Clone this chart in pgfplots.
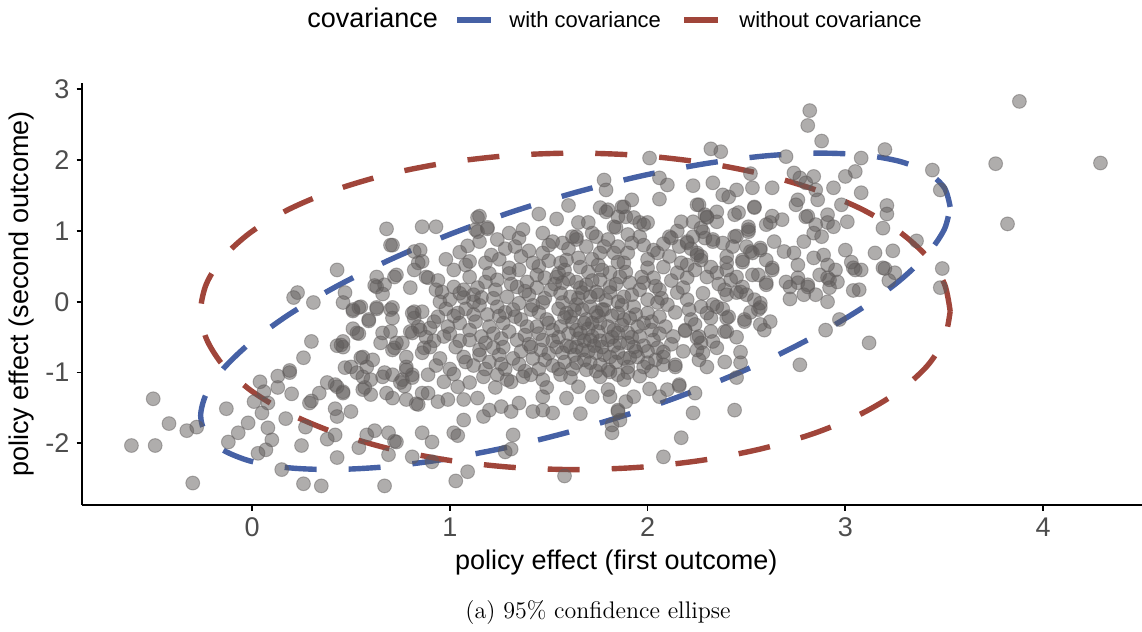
\documentclass[border=0pt]{standalone}
\usepackage{pgfplots}
\usepackage{pgfplotstable}
\pgfplotsset{compat=1.18}
\usepackage{fontspec}
\newfontfamily\arial{Liberation Sans}

\definecolor{withcov}{HTML}{4661A5}
\definecolor{nocov}{HTML}{A0453A}
\definecolor{pointgray}{HTML}{5F5B5A}
\definecolor{ticktext}{HTML}{4D4D4D}

% simulated policy effects (first outcome, second outcome)
\pgfplotstableread{
x y
4.29 1.96
3.88 2.83
3.76 1.95
3.82 1.10
3.20 2.15
3.44 1.86
3.08 2.03
3.48 1.58
3.21 1.36
3.21 1.24
3.19 1.04
3.36 0.86
3.24 0.72
3.15 0.69
3.20 0.47
3.25 0.41
3.22 0.30
3.49 0.47
3.48 0.20
3.12 -0.58
3.08 1.54
3.08 0.45
3.07 0.17
2.82 2.70
2.81 2.49
2.88 2.27
2.32 2.16
2.37 2.12
2.01 2.03
2.70 2.05
3.05 1.84
3.00 1.77
2.74 1.82
2.77 1.75
2.84 1.77
2.80 1.68
2.52 1.81
2.53 1.61
2.63 1.61
2.23 1.64
2.33 1.68
2.45 1.58
2.38 1.51
2.41 1.48
2.26 1.37
2.06 1.45
2.06 1.75
2.10 1.65
2.85 1.58
2.86 1.44
2.94 1.61
2.98 1.37
2.76 1.44
2.75 1.37
2.54 1.33
2.80 1.20
2.81 1.21
2.91 1.23
3.01 1.13
2.94 1.06
2.91 1.12
2.85 1.09
2.84 0.97
2.88 0.92
2.79 0.85
2.62 1.12
2.60 1.09
2.68 1.16
2.64 0.85
2.69 0.71
2.74 0.69
2.76 0.52
2.84 0.62
2.89 0.66
2.95 0.45
3.00 0.73
3.03 0.56
3.05 0.45
2.91 0.52
2.87 0.38
2.96 0.28
2.44 1.23
2.46 1.26
2.35 1.27
2.29 1.23
2.30 1.19
2.17 1.13
2.23 1.13
2.27 1.04
2.29 0.90
2.51 1.06
2.51 0.99
2.45 0.93
2.11 0.92
1.93 1.19
2.00 1.12
1.98 1.09
1.92 1.44
1.88 1.34
1.80 1.30
1.78 1.72
1.79 1.58
2.43 0.78
2.50 0.78
2.53 0.69
2.48 0.56
2.57 0.73
2.60 0.59
2.63 0.45
2.40 0.45
2.33 0.85
2.38 0.83
2.20 0.83
2.25 0.69
2.27 0.64
2.20 0.52
2.70 0.28
2.76 0.27
2.81 0.21
2.92 0.31
2.77 -0.89
2.47 -0.71
2.47 -0.86
2.39 -0.85
2.45 -1.07
2.44 -1.53
2.24 -1.29
2.23 -1.57
2.17 -1.92
2.08 -2.19
2.16 -1.19
2.10 -1.24
2.06 -1.34
2.01 -1.23
1.93 -1.34
1.89 -1.41
1.85 -1.55
1.86 -1.67
1.82 -1.74
1.81 -1.34
2.90 -0.40
2.97 -0.25
3.04 0.16
2.91 0.00
2.92 0.20
2.91 0.34
3.19 0.48
3.04 0.48
2.85 0.10
2.79 0.10
2.72 0.04
2.72 0.21
2.76 0.34
2.81 0.24
2.60 0.24
2.62 -0.28
2.57 -0.32
2.59 -0.40
2.56 -0.11
2.57 -0.02
2.54 0.03
2.49 -0.28
2.41 -0.21
2.40 -0.42
2.45 0.13
2.40 0.10
2.48 0.21
2.56 0.38
2.63 0.48
2.32 -0.42
2.25 -0.51
2.28 -0.72
2.25 -0.68
2.26 -0.82
2.30 -0.92
2.19 -0.41
2.14 -0.92
2.08 -0.78
2.04 -0.82
1.98 -0.92
1.91 -0.79
1.85 -1.03
2.30 -0.16
2.33 -0.04
2.21 -0.11
-0.50 -1.37
-0.42 -1.72
-0.33 -1.82
-0.28 -1.77
-0.61 -2.03
-0.49 -2.03
-0.30 -2.56
-0.13 -1.51
-0.07 -1.85
-0.12 -1.98
-0.02 -1.71
0.03 -2.14
0.07 -2.09
0.10 -1.95
0.08 -1.78
0.15 -2.37
0.25 -2.03
0.26 -2.57
0.35 -2.60
0.43 -2.20
0.38 -1.94
0.42 -1.88
0.58 -1.88
0.62 -1.82
0.54 -2.06
0.69 -2.16
0.69 -1.85
0.72 -1.97
0.67 -2.60
0.86 -1.85
0.81 -2.19
0.27 -1.77
0.17 -1.65
0.05 -1.57
0.01 -1.41
0.08 -1.43
0.04 -1.13
0.06 -1.27
0.13 -1.21
0.13 -1.05
0.19 -1.00
0.20 -1.30
0.29 -1.43
0.30 -1.40
0.34 -1.29
0.38 -1.14
0.43 -1.20
0.46 -1.29
0.42 -1.51
0.50 -1.55
0.43 -1.62
0.26 -0.79
0.30 -0.56
0.23 0.13
0.21 0.06
0.31 -0.01
0.43 0.45
0.47 0.13
0.46 -0.01
0.54 -0.08
0.51 -0.13
0.59 -0.27
0.51 -0.38
0.54 -0.45
0.46 -0.56
0.43 -0.62
0.47 -0.93
0.55 -0.79
0.58 -0.92
0.56 -1.06
0.63 0.35
0.63 0.21
0.66 0.11
0.72 0.35
0.80 0.20
0.63 -0.10
0.70 -0.11
0.71 -0.23
0.66 -0.44
0.70 -0.42
0.65 -0.58
0.72 -0.65
0.76 -0.58
0.82 -0.14
0.86 -0.14
0.82 -0.23
0.85 -0.40
0.81 -0.44
0.78 -0.92
0.81 -1.03
0.76 -1.10
0.71 -1.03
0.66 -1.06
0.68 -1.29
0.60 -1.31
0.57 -1.21
0.71 -1.36
0.78 -1.38
0.83 -1.44
0.86 -1.29
0.77 -1.19
0.85 0.73
0.86 0.57
0.82 0.45
0.71 0.80
0.88 0.35
0.87 -0.65
0.68 1.03
0.70 0.80
0.86 1.06
0.93 1.06
1.09 0.79
1.10 0.57
1.08 0.52
1.14 0.99
1.19 1.05
1.14 1.19
1.45 1.24
1.54 1.17
1.60 1.36
1.76 1.33
1.79 1.27
1.87 1.34
1.24 0.88
1.30 0.97
1.33 0.78
1.37 1.02
1.21 0.66
1.30 0.48
1.35 0.45
1.36 0.64
1.47 0.97
1.47 0.69
1.52 0.85
1.57 0.83
1.60 0.75
1.65 1.12
1.70 1.12
1.64 0.88
1.74 0.92
1.78 0.78
1.85 0.78
1.59 0.59
1.56 0.55
1.75 0.52
1.84 1.05
1.89 1.20
0.82 0.71
0.84 0.55
0.89 0.34
0.93 0.17
0.62 0.23
0.73 0.38
0.67 0.24
0.51 -0.11
0.55 -0.07
0.63 -0.08
0.71 -0.08
0.59 -0.25
0.81 -0.16
0.96 0.14
1.02 0.21
1.07 0.17
1.14 0.20
1.16 0.06
1.12 0.00
1.07 0.06
1.00 0.03
0.95 0.00
0.94 -0.21
1.23 0.17
1.24 0.31
1.29 0.07
1.34 0.21
1.39 0.28
1.44 0.20
1.48 0.34
1.54 0.35
1.57 0.27
1.51 0.17
1.64 0.28
1.69 0.24
1.76 0.31
1.81 0.21
1.61 0.07
1.71 0.07
1.85 0.00
1.67 -0.11
1.57 -0.01
1.77 -0.11
1.88 0.55
1.86 0.35
1.83 0.69
1.47 -0.01
1.41 -0.11
1.32 -0.11
1.24 -0.07
1.19 -0.18
1.12 -0.18
1.04 -0.16
0.99 -0.35
0.90 -0.37
0.84 -0.35
0.80 -0.42
0.73 -0.58
0.53 -0.44
0.46 -0.64
0.56 -0.78
0.61 -0.82
0.71 -0.68
0.78 -0.78
0.86 -0.72
0.90 -0.64
0.97 -0.49
1.03 -0.64
1.10 -0.54
1.16 -0.49
1.20 -0.35
1.27 -0.30
1.33 -0.21
1.39 -0.35
1.44 -0.35
1.49 -0.25
1.56 -0.35
1.61 -0.21
1.64 -0.40
1.72 -0.30
1.80 -0.35
1.85 -0.44
1.88 -0.25
1.07 -0.78
1.15 -0.68
1.27 -0.64
1.34 -0.54
1.41 -0.64
1.47 -0.54
1.54 -0.64
1.57 -0.72
1.64 -0.64
1.71 -0.54
1.77 -0.64
1.85 -0.72
1.90 -0.58
1.03 -2.53
1.09 -2.40
1.58 -2.46
1.32 -1.88
1.28 -2.12
1.31 -2.08
1.07 -1.67
1.02 -1.85
1.04 -1.89
0.91 -2.26
0.91 -1.98
0.73 -1.98
1.66 -1.58
1.42 -1.55
1.47 -1.53
1.52 -1.57
1.31 -1.55
1.35 -1.43
1.26 -1.48
1.17 -1.62
1.20 -1.53
1.82 -1.85
1.85 -1.53
1.72 -1.34
1.65 -1.20
1.59 -1.36
1.49 -1.21
1.47 -1.34
1.37 -1.06
1.29 -1.10
1.23 -1.21
1.14 -1.36
1.07 -1.38
0.99 -1.38
0.94 -1.41
0.89 -1.29
0.84 -1.45
0.56 -1.24
0.46 -1.27
0.42 -1.17
0.50 -0.92
0.45 -0.61
0.53 -1.00
0.60 -1.10
0.67 -1.00
0.75 -1.14
0.81 -1.07
0.89 -1.03
0.97 -1.13
1.04 -1.20
1.10 -1.14
1.17 -1.06
1.24 -1.03
1.31 -1.13
1.41 -1.03
1.47 -1.10
1.56 -1.03
1.61 -1.07
1.69 -0.96
1.76 -0.89
1.81 -0.99
1.88 -1.10
1.80 -1.24
0.78 -0.96
1.15 1.21
1.13 1.02
1.19 1.03
0.19 -0.97
2.25 1.37
2.54 1.34
2.63 1.21
2.30 1.20
2.35 1.13
2.28 0.99
2.23 0.92
2.20 0.85
2.12 0.90
2.33 0.88
2.44 0.92
2.51 1.02
2.57 0.76
2.60 0.27
2.57 -0.08
2.49 -0.25
2.39 -0.42
2.40 -0.23
2.27 -0.58
2.33 -0.56
2.26 -0.49
2.24 -0.32
2.32 -0.23
2.19 -0.40
2.13 -0.49
2.08 -0.71
2.08 -0.89
2.14 -0.89
2.00 -0.86
1.95 -0.78
1.90 -0.92
1.76 -1.06
2.16 -1.17
2.42 0.31
2.47 0.14
2.39 0.17
2.35 0.41
2.32 0.49
2.27 0.59
2.25 0.66
2.40 0.64
2.48 0.59
2.52 0.71
2.53 0.38
2.35 -0.07
2.27 -0.07
2.20 0.03
2.15 0.13
2.20 0.34
2.15 0.41
2.08 0.49
2.11 0.64
2.05 0.69
1.98 0.80
1.92 0.83
1.90 0.69
1.85 0.56
2.03 0.34
1.98 0.27
2.06 0.17
2.10 -0.04
2.05 -0.01
2.00 0.03
1.96 0.17
1.91 0.27
1.81 0.41
1.66 0.49
1.67 0.13
1.74 0.14
1.81 0.13
1.88 0.07
1.93 -0.07
2.00 -0.16
2.06 -0.21
1.98 -0.30
1.91 -0.23
1.85 -0.16
1.78 -0.11
1.71 -0.07
1.64 -0.04
1.59 -0.16
1.62 -0.30
1.69 -0.25
1.76 -0.30
1.83 -0.40
1.90 -0.44
1.96 -0.49
2.03 -0.54
1.93 -0.64
1.86 -0.58
1.80 -0.54
1.72 -0.49
1.66 -0.44
1.61 -0.64
1.67 -0.68
1.74 -0.72
1.81 -0.78
1.71 -0.86
1.64 -0.86
1.80 -0.96
1.72 0.97
1.69 0.78
1.64 0.92
1.76 0.69
1.96 0.92
2.03 0.73
1.83 1.06
1.85 1.20
1.96 1.12
2.16 0.78
1.00 -0.45
1.05 -0.30
1.10 -0.40
1.13 -0.28
1.18 -0.58
1.22 -0.45
1.25 -0.75
1.30 -0.42
1.36 -0.70
1.38 -0.47
1.42 -0.80
1.45 -0.45
1.50 -0.73
1.52 -0.40
1.55 -0.50
1.58 -0.85
1.60 -0.45
1.63 -0.75
1.68 -0.55
1.70 -0.38
1.73 -0.62
1.75 -0.42
1.78 -0.75
1.82 -0.50
1.84 -0.85
1.87 -0.33
1.92 -0.50
1.95 -0.35
1.98 -0.62
2.02 -0.40
2.05 -0.65
1.12 -0.90
1.20 -0.85
1.28 -0.95
1.35 -0.88
1.45 -0.95
1.52 -0.90
1.62 -0.95
1.00 -0.95
0.95 -0.80
0.92 -0.55
1.05 -0.55
1.15 -0.05
1.25 -0.20
1.35 -0.02
1.45 -0.15
1.55 -0.10
1.65 0.05
1.75 -0.20
1.40 0.10
1.30 0.40
1.45 0.50
1.55 0.40
1.65 0.62
1.70 0.42
1.75 0.10
1.25 0.60
1.40 0.72
1.50 0.58
1.20 0.40
1.10 0.35
1.02 0.45
0.98 0.60
1.05 0.70
1.15 0.85
1.02 -0.20
1.08 -0.10
1.12 0.10
1.18 0.28
1.22 0.05
1.28 -0.15
1.31 0.25
1.36 -0.25
1.38 0.15
1.42 -0.05
1.44 0.38
1.48 0.05
1.50 -0.30
1.53 0.25
1.56 0.12
1.58 -0.22
1.60 0.32
1.63 -0.12
1.66 0.20
1.68 -0.30
1.72 0.30
1.74 -0.15
1.77 0.45
1.79 0.02
1.82 -0.20
1.84 0.25
1.87 -0.05
1.89 0.42
1.92 0.10
1.94 -0.18
1.97 0.35
2.00 0.48
2.02 -0.28
2.04 0.22
2.07 0.05
2.09 -0.35
2.12 0.30
2.14 -0.15
2.17 0.55
2.18 0.20
2.22 -0.25
2.24 0.45
2.28 0.12
2.30 0.35
2.36 0.25
2.38 -0.10
1.15 -0.75
1.22 -0.65
1.26 -0.52
1.32 -0.80
1.40 -0.60
1.46 -0.68
1.52 -0.55
1.59 -0.62
1.65 -0.52
1.70 -0.70
1.76 -0.55
1.83 -0.62
1.88 -0.80
1.94 -0.70
2.00 -0.70
2.06 -0.45
2.12 -0.60
2.18 -0.70
1.08 -0.85
1.18 -0.95
1.26 -0.88
1.38 -0.98
1.48 -0.82
1.55 -0.95
1.68 -0.82
1.74 -0.98
1.90 -1.00
1.96 -1.05
2.02 -0.98
1.02 -1.02
0.93 -0.90
0.88 -0.50
0.92 -0.28
0.98 -0.10
1.05 0.12
0.94 0.30
1.18 0.55
1.28 0.75
1.35 0.90
1.42 0.55
1.50 0.80
1.58 0.45
1.62 0.92
1.72 0.60
1.80 0.88
1.90 0.95
2.00 0.60
2.08 0.82
2.15 1.00
2.22 0.75
2.40 0.55
2.45 0.35
2.50 0.10
2.52 -0.15
2.45 -0.50
2.35 -0.65
}\effects

% 95% ellipse, correlated errors
\pgfplotstableread{
x y
3.530 1.340
3.501 1.609
3.416 1.825
3.276 1.982
3.087 2.074
2.853 2.099
2.583 2.057
2.283 1.947
1.964 1.775
1.635 1.544
1.306 1.262
0.987 0.938
0.688 0.582
0.417 0.203
0.183 -0.186
-0.006 -0.573
-0.146 -0.947
-0.231 -1.296
-0.260 -1.610
-0.231 -1.879
-0.146 -2.095
-0.006 -2.252
0.183 -2.344
0.417 -2.369
0.688 -2.327
0.987 -2.217
1.306 -2.045
1.635 -1.814
1.964 -1.532
2.283 -1.208
2.583 -0.852
2.853 -0.473
3.087 -0.084
3.276 0.303
3.416 0.677
3.501 1.026
3.530 1.340
}\withcov

% 95% ellipse, independent errors
\pgfplotstableread{
x y
3.530 -0.135
3.501 0.253
3.416 0.629
3.276 0.983
3.087 1.302
2.853 1.577
2.583 1.801
2.283 1.965
1.964 2.066
1.635 2.100
1.306 2.066
0.987 1.965
0.688 1.801
0.417 1.577
0.183 1.302
-0.006 0.983
-0.146 0.629
-0.231 0.253
-0.260 -0.135
-0.231 -0.523
-0.146 -0.899
-0.006 -1.253
0.183 -1.572
0.417 -1.847
0.688 -2.071
0.987 -2.235
1.306 -2.336
1.635 -2.370
1.964 -2.336
2.283 -2.235
2.583 -2.071
2.853 -1.847
3.087 -1.572
3.276 -1.253
3.416 -0.899
3.501 -0.523
3.530 -0.135
}\withoutcov

\begin{document}
\begin{tikzpicture}
\useasboundingbox (-41pt,-63.5pt) rectangle (530pt,252.5pt);
\begin{axis}[
  scale only axis,
  width=530pt, height=211pt,
  xmin=-0.86, xmax=4.50,
  ymin=-2.87, ymax=3.09,
  axis x line*=bottom, axis y line*=left,
  axis line style={-, line width=1pt, black},
  xtick={0,1,2,3,4}, ytick={-2,-1,0,1,2,3},
  tick align=outside,
  major tick length=2.75pt,
  tick style={line width=0.9pt, black},
  /pgf/number format/assume math mode=true,
  ticklabel style={font=\arial\fontsize{13.5}{16}\selectfont, text=ticktext},
  xlabel={policy effect (first outcome)},
  ylabel={policy effect (second outcome)},
  label style={font=\arial\fontsize{13.5}{16}\selectfont, text=black},
  xlabel style={at={(axis description cs:0.504,-0.137)}, anchor=center},
  ylabel style={at={(axis description cs:-0.0566,0.5)}, anchor=center},
  clip=false,
]
\addplot[only marks, mark=*, mark size=3.45pt,
  mark options={fill=pointgray, draw=pointgray, fill opacity=0.5,
    draw opacity=0.45, line width=0.5pt}] table {\effects};

\addplot[withcov, line width=2.7pt, smooth, dash pattern=on 16pt off 16pt] table {\withcov};
\addplot[nocov, line width=2.7pt, smooth, dash pattern=on 16pt off 16pt] table {\withoutcov};
\end{axis}

% legend row above the panel
\begin{scope}[font=\arial\fontsize{11}{13}\selectfont]
  \node[anchor=base west, inner sep=0pt, font=\arial\fontsize{13.5}{16}\selectfont]
    at (112.5pt,238.5pt) {covariance};
  \draw[withcov, line width=2.7pt] (187.5pt,242.5pt) -- (204.5pt,242.5pt);
  \node[anchor=base west, inner sep=0pt] at (213.5pt,238.5pt) {with covariance};
  \draw[nocov, line width=2.7pt] (301pt,242.5pt) -- (318pt,242.5pt);
  \node[anchor=base west, inner sep=0pt] at (328.5pt,238.5pt) {without covariance};
\end{scope}

% panel caption
\node[font=\fontsize{12}{14}\selectfont] at (258pt,-54pt)
  {(a) 95\% confidence ellipse};
\end{tikzpicture}
\end{document}
